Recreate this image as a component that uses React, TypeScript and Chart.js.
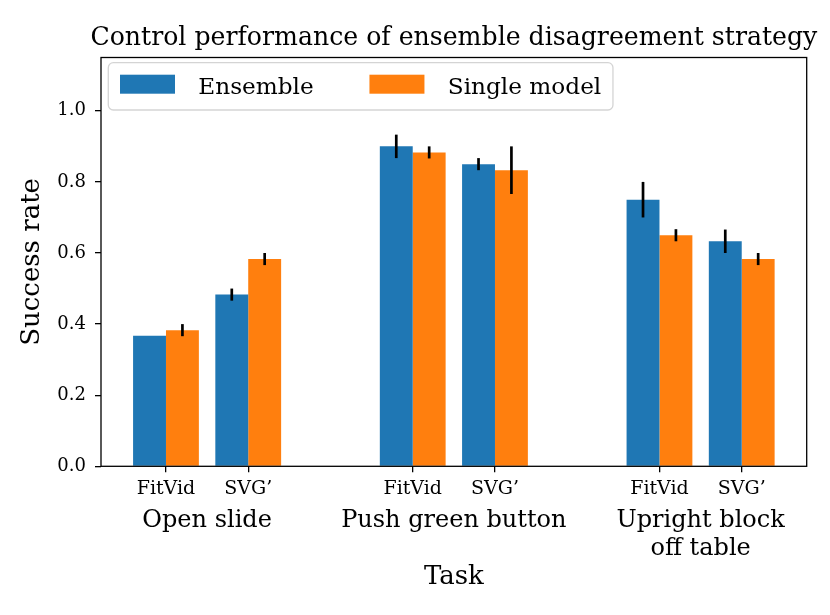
import React, { useEffect, useRef } from 'react';
import { Chart, registerables } from 'chart.js';

Chart.register(...registerables);

// ---------- data ----------
const chartTitle = 'Control performance of ensemble disagreement strategy';
const tasks: (string | string[])[] = ['Open slide', 'Push green button', ['Upright block', 'off table']];
const models = ['FitVid', 'SVG\u2019'];
const seriesNames = ['Ensemble', 'Single model'];
const ensembleMean = [0.367, 0.483, 0.9, 0.85, 0.75, 0.633];
const ensembleErr = [0, 0.017, 0.033, 0.017, 0.05, 0.033];
const singleMean = [0.383, 0.583, 0.883, 0.833, 0.65, 0.583];
const singleErr = [0.017, 0.017, 0.017, 0.067, 0.017, 0.017];
const yTicks = [0, 0.2, 0.4, 0.6, 0.8, 1.0];
const yMin = 0;
const yMax = 1.15;
const xMin = -0.79;
const xMax = 7.79;
const colors = ['#1f77b4', '#ff7f0e'];

const SLOT = models.length + 1; // two models plus a gap per task
const xPos = (i: number) => Math.floor(i / models.length) * SLOT + (i % models.length);
const barX = ensembleMean.map((_, i) => xPos(i));
const taskCenters = tasks.map((_, t) => t * SLOT + (models.length - 1) / 2);
const means = [ensembleMean, singleMean];
const errs = [ensembleErr, singleErr];

const FONT = '"DejaVu Serif", serif';

const errorBarPlugin = {
  id: 'errorBars',
  afterDatasetsDraw(chart: any) {
    const ctx = chart.ctx;
    const y = chart.scales.y;
    chart.data.datasets.forEach((_: any, di: number) => {
      const meta = chart.getDatasetMeta(di);
      meta.data.forEach((el: any, i: number) => {
        const e = errs[di][i];
        const v = means[di][i];
        if (!e) return;
        ctx.save();
        ctx.strokeStyle = '#000';
        ctx.lineWidth = 2.7;
        ctx.beginPath();
        ctx.moveTo(el.x, y.getPixelForValue(v + e));
        ctx.lineTo(el.x, y.getPixelForValue(v - e));
        ctx.stroke();
        ctx.restore();
      });
    });
  },
};

const framePlugin = {
  id: 'frame',
  afterDatasetsDraw(chart: any) {
    const { ctx, chartArea } = chart;
    const { left, top, right, bottom } = chartArea;
    ctx.save();
    ctx.strokeStyle = '#000';
    ctx.lineWidth = 1.3;
    ctx.strokeRect(left, top, right - left, bottom - top);
    ctx.restore();
  },
};

const titlePlugin = {
  id: 'axesTitle',
  afterDraw(chart: any) {
    const { ctx, chartArea } = chart;
    ctx.save();
    ctx.font = `25.2px ${FONT}`;
    ctx.fillStyle = '#000';
    ctx.textAlign = 'center';
    ctx.textBaseline = 'alphabetic';
    ctx.fillText(chartTitle, (chartArea.left + chartArea.right) / 2, chartArea.top - 12.5);
    ctx.restore();
  },
};

const legendPlugin = {
  id: 'innerLegend',
  afterDraw(chart: any) {
    const { ctx, chartArea } = chart;
    const fontSize = 23.2;
    ctx.save();
    ctx.font = `${fontSize}px ${FONT}`;
    const left = chartArea.left + 7.3;
    const top = chartArea.top + 5.2;
    const padX = 11.7;
    const patchW = 55;
    const patchH = 19;
    const textGap = 23.3;
    const itemGap = 55.7;
    const h = 47.3;
    const widths = seriesNames.map((n) => ctx.measureText(n).width);
    let total = padX * 2 + itemGap * (seriesNames.length - 1);
    widths.forEach((w) => (total += patchW + textGap + w));
    ctx.beginPath();
    if ((ctx as any).roundRect) (ctx as any).roundRect(left, top, total, h, 5);
    else ctx.rect(left, top, total, h);
    ctx.fillStyle = 'rgba(255,255,255,0.8)';
    ctx.fill();
    ctx.strokeStyle = 'rgba(204,204,204,0.85)';
    ctx.lineWidth = 1.3;
    ctx.stroke();
    let x = left + padX;
    seriesNames.forEach((n, i) => {
      ctx.fillStyle = colors[i];
      ctx.fillRect(x, top + 12, patchW, patchH);
      x += patchW + textGap;
      ctx.fillStyle = '#000';
      ctx.textBaseline = 'alphabetic';
      ctx.textAlign = 'left';
      ctx.fillText(n, x, top + 31.3);
      x += widths[i] + itemGap;
    });
    ctx.restore();
  },
};

export default function App() {
  const ref = useRef<HTMLCanvasElement | null>(null);

  useEffect(() => {
    if (!ref.current) return;
    const datasets = seriesNames.map((name, di) => ({
      label: name,
      data: means[di].map((v, i) => ({ x: barX[i], y: v })),
      backgroundColor: colors[di],
      borderWidth: 0,
      categoryPercentage: 0.8,
      barPercentage: 1.0,
    }));

    const chart = new Chart(ref.current, {
      type: 'bar',
      data: { datasets } as any,
      plugins: [errorBarPlugin, framePlugin, titlePlugin, legendPlugin],
      options: {
        animation: false,
        responsive: true,
        maintainAspectRatio: false,
        layout: { padding: { left: 0, right: 23.3, top: 57.5, bottom: 0 } },
        plugins: {
          legend: { display: false },
          tooltip: { enabled: false },
          title: { display: false },
        },
        scales: {
          x: {
            type: 'linear',
            axis: 'x',
            position: 'bottom',
            min: xMin,
            max: xMax,
            offset: false,
            grid: {
              display: true,
              drawOnChartArea: false,
              drawTicks: true,
              tickLength: 6,
              color: '#000',
              lineWidth: 1.3,
              offset: false,
            },
            border: { display: false },
            afterBuildTicks: (scale: any) => {
              scale.ticks = barX.map((v) => ({ value: v }));
            },
            afterFit: (scale: any) => {
              scale.height = 34;
            },
            ticks: {
              autoSkip: false,
              maxRotation: 0,
              minRotation: 0,
              padding: 5.7,
              color: '#000',
              font: { family: FONT, size: 19, lineHeight: 1.2 },
              callback: (_v: any, index: number) => models[index % models.length],
            },
          } as any,
          x2: {
            type: 'linear',
            axis: 'x',
            position: 'bottom',
            min: xMin,
            max: xMax,
            offset: false,
            grid: { display: false, drawTicks: false },
            border: { display: false },
            afterBuildTicks: (scale: any) => {
              scale.ticks = taskCenters.map((v) => ({ value: v }));
            },
            afterFit: (scale: any) => {
              scale.height = 114.7;
            },
            ticks: {
              autoSkip: false,
              maxRotation: 0,
              minRotation: 0,
              padding: 6.55,
              color: '#000',
              font: { family: FONT, size: 24, lineHeight: 1.155 },
              callback: (_v: any, index: number) => tasks[index],
            },
            title: {
              display: true,
              text: 'Task',
              color: '#000',
              font: { family: FONT, size: 26, lineHeight: 1.2 },
              padding: { top: 0, bottom: 21.7 },
            },
          } as any,
          y: {
            type: 'linear',
            position: 'left',
            min: yMin,
            max: yMax,
            grid: {
              display: true,
              drawOnChartArea: false,
              drawTicks: true,
              tickLength: 6,
              color: '#000',
              lineWidth: 1.3,
            },
            border: { display: false },
            afterBuildTicks: (scale: any) => {
              scale.ticks = yTicks.map((v) => ({ value: v }));
            },
            afterFit: (scale: any) => {
              scale.width = 101;
            },
            ticks: {
              padding: 9,
              color: '#000',
              font: { family: FONT, size: 18, lineHeight: 1.2 },
              callback: (v: any) => Number(v).toFixed(1),
            },
            title: {
              display: true,
              text: 'Success rate',
              color: '#000',
              font: { family: FONT, size: 26, lineHeight: 1.2 },
              padding: { top: 17.1, bottom: 0 },
            },
          } as any,
        },
      },
    });

    return () => chart.destroy();
  }, []);

  return (
    <div style={{ position: 'absolute', left: 0, top: 0, width: 830, height: 615, background: '#fff' }}>
      <canvas ref={ref} />
    </div>
  );
}
